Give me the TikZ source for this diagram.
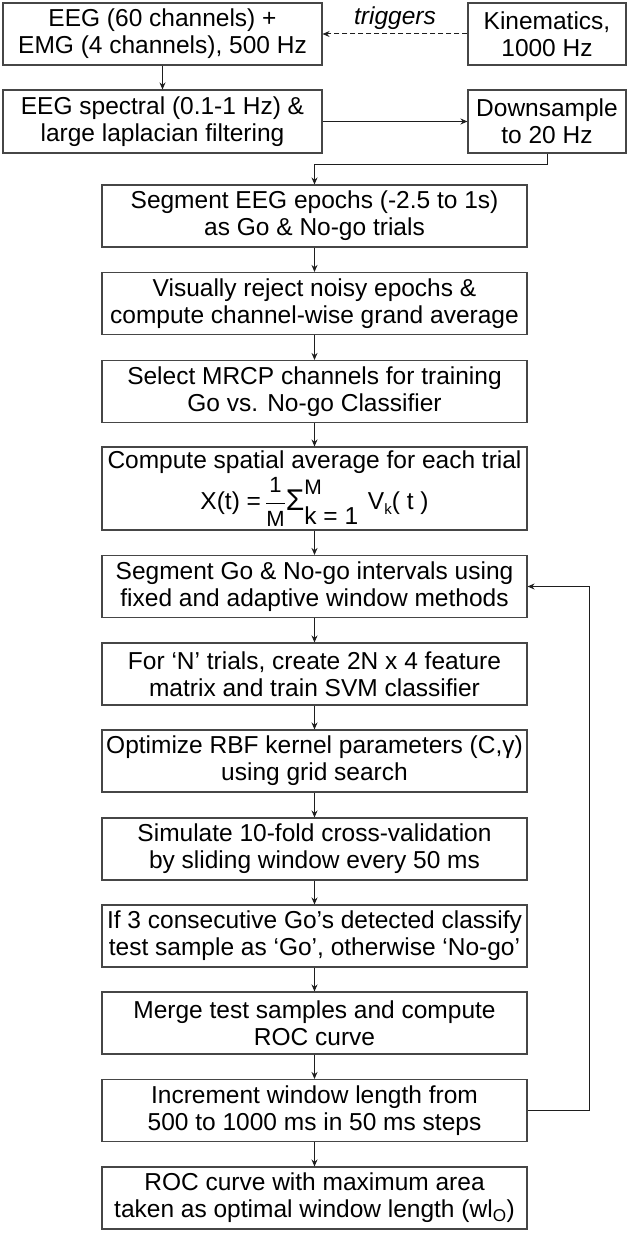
\documentclass[tikz,border=0pt]{standalone}
\usepackage{amsmath}
\usepackage{fontspec}
\setmainfont{Liberation Sans}
\usetikzlibrary{arrows.meta}
\definecolor{boxgray}{RGB}{70,70,70}
\definecolor{linegray}{RGB}{30,30,30}
\begin{document}
\begin{tikzpicture}[x=1pt,y=-1pt,
  box/.style={draw=boxgray, line width=1.1pt, align=center, inner sep=0pt,
              font=\fontsize{24.5}{27}\selectfont, text=black},
  leftbox/.style={box, minimum width=319pt, minimum height=62pt},
  smallbox/.style={box, minimum width=158pt, minimum height=62pt},
  mainbox/.style={box, minimum width=425pt, minimum height=62pt},
  arr/.style={-{Stealth[length=7pt,width=6pt]}, line width=1pt, draw=linegray},
  lbl/.style={font=\itshape\fontsize{24.5}{27}\selectfont, inner sep=0pt}
]
\useasboundingbox (0,0) rectangle (630,1233);

\node[leftbox] (eeg) at (162.5,34) {EEG (60 channels) +\\EMG (4 channels), 500 Hz};
\node[smallbox] (kin) at (547,34) {Kinematics,\\1000 Hz};
\node[leftbox, minimum height=63pt] (spec) at (162.5,121.5) {EEG spectral (0.1-1 Hz) \&\\large laplacian filtering};
\node[smallbox, minimum height=63pt] (down) at (547,121.5) {Downsample\\to 20 Hz};

\node[mainbox] (seg) at (314.5,216) {Segment EEG epochs (-2.5 to 1s)\\as Go \& No-go trials};
\node[mainbox] (vis) at (314.5,303.5) {Visually reject noisy epochs \&\\compute channel-wise grand average};
\node[mainbox] (sel) at (314.5,391.5) {Select MRCP channels for training\\Go vs. No-go Classifier};
\node[mainbox, minimum height=83pt] (form) at (314.5,488.5) {Compute spatial average for each trial\\[3pt]
X(t) =\,$\dfrac{\text{\fontsize{22}{22}\selectfont 1}}{\text{\fontsize{22}{22}\selectfont M}}$\raisebox{-0.05em}{\fontsize{30}{30}\selectfont Σ}\rlap{\raisebox{0.6em}{\fontsize{21}{21}\selectfont M}}\raisebox{-0.6em}{k = 1}\hspace{0.4em}V\raisebox{-0.2em}{\fontsize{15}{15}\selectfont k}( t )};
\node[mainbox] (sgo) at (314.5,586.5) {Segment Go \& No-go intervals using\\fixed and adaptive window methods};
\node[mainbox] (ntr) at (314.5,674) {For `N' trials, create 2N x 4 feature\\matrix and train SVM classifier};
\node[mainbox] (opt) at (314.5,761) {Optimize RBF kernel parameters (C,γ)\\using grid search};
\node[mainbox] (sim) at (314.5,849) {Simulate 10-fold cross-validation\\by sliding window every 50 ms};
\node[mainbox] (if3) at (314.5,936) {If 3 consecutive Go's detected classify\\test sample as `Go', otherwise `No-go'};
\node[mainbox] (mrg) at (314.5,1023) {Merge test samples and compute\\ROC curve};
\node[mainbox] (inc) at (314.5,1110.5) {Increment window length from\\500 to 1000 ms in 50 ms steps};
\node[mainbox] (roc) at (314.5,1198) {ROC curve with maximum area\\taken as optimal window length (wl\textsubscript{O})};

\node[lbl, anchor=base] (trig) at (395,25) {triggers};

\draw[arr, dash pattern=on 5pt off 3pt] (kin.west) -- (eeg.east);
\draw[arr] (eeg) -- (spec);
\draw[arr] (spec.east) -- (down.west);
\draw[arr] (down.south) -- ++(0,11) -| (seg.north);
\draw[arr] (seg) -- (vis);
\draw[arr] (vis) -- (sel);
\draw[arr] (sel) -- (form);
\draw[arr] (form) -- (sgo);
\draw[arr] (sgo) -- (ntr);
\draw[arr] (ntr) -- (opt);
\draw[arr] (opt) -- (sim);
\draw[arr] (sim) -- (if3);
\draw[arr] (if3) -- (mrg);
\draw[arr] (mrg) -- (inc);
\draw[arr] (inc) -- (roc);
\draw[arr] (inc.east) -- ++(62,0) |- (sgo.east);
\end{tikzpicture}
\end{document}
